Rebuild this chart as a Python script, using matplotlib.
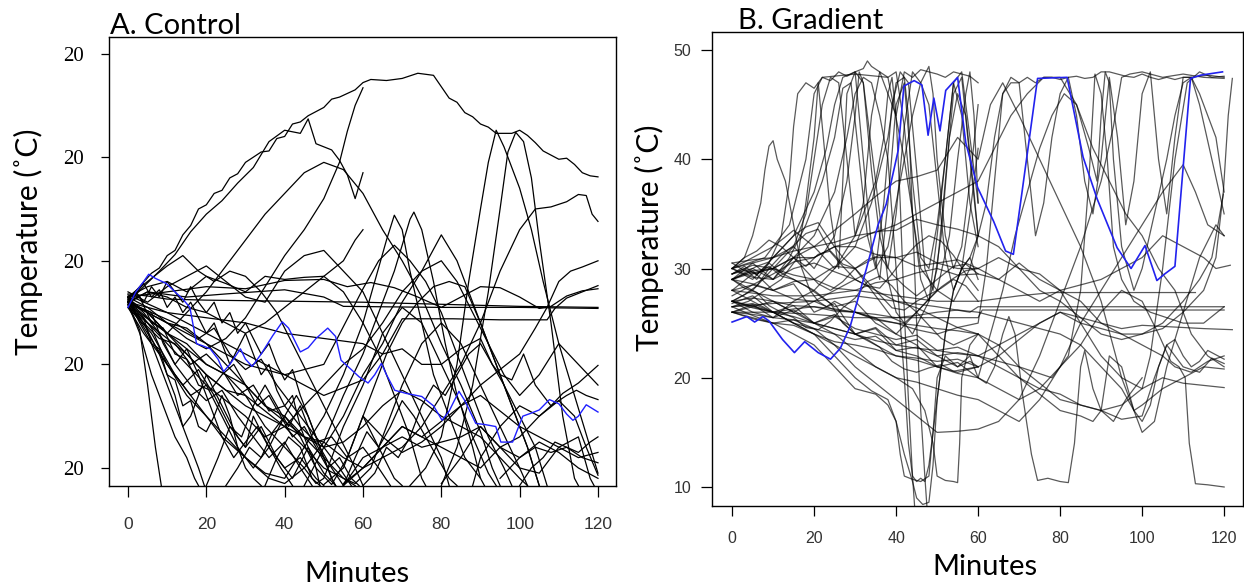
import matplotlib.pyplot as plt

# ---- A. Control : (minute, temperature) traces ----
control_traces = [
    [(0, 26.3), (3, 27.5), (6, 28.8), (8, 29.3), (10, 30.5), (12, 31), (14, 32.5), (16, 33.4), (18, 35), (20, 35.4),
     (22, 36.5), (24, 36.8), (26, 38), (28, 38.4), (30, 39.5), (34, 40.5), (36, 40.6), (38, 41.8), (40, 42), (42, 43.2),
     (44, 43.4), (46, 44), (50, 44.8), (52, 45.6), (54, 45.8), (58, 46.5), (60, 47.2), (62, 47.5), (66, 47.4), (70, 47.6),
     (74, 48.1), (78, 47.9), (80, 46.8), (82, 45.7), (84, 45.3), (86, 44.3), (88, 43.9), (90, 43.2), (92, 42.9),
     (94, 42.3), (98, 42.3), (100, 42.6), (102, 42.1), (104, 41.4), (106, 40.6), (110, 39.8), (112, 39.9), (114, 39.3),
     (116, 38.5), (118, 38.2), (120, 38.1)],
    [(0, 26), (4, 27.5), (8, 29), (12, 30.6), (16, 32.8), (20, 34.5), (24, 35.8), (28, 37.5), (32, 39), (36, 41.5),
     (40, 42.6), (44, 42.3), (46, 43.7), (48, 41.3), (52, 40.7), (54, 39.7), (56, 38.3), (58, 36), (60, 38.5)],
    [(0, 26.5), (5, 25.5), (10, 24), (15, 22.5), (20, 21.5), (25, 22.5), (30, 24.5), (35, 27.5), (40, 30.5), (45, 33),
     (50, 36), (54, 39.5), (56, 42.5), (58, 45), (60, 46.7)],
    [(0, 26), (5, 24.5), (10, 23), (15, 25), (20, 27), (25, 29.5), (30, 32), (35, 34.5), (40, 36.5), (45, 38.5),
     (50, 39.5), (55, 38.8), (60, 36.5), (65, 33), (70, 30), (75, 26.5), (80, 22), (85, 18), (90, 13.5), (93, 10), (95, 8.3)],
    [(0, 26), (5, 23), (10, 20), (15, 17), (20, 15), (25, 13), (30, 11), (35, 9.5), (40, 9), (45, 12), (50, 15), (55, 19),
     (60, 24), (63, 28), (66, 32), (68, 34.4), (70, 33), (72, 29), (75, 24), (78, 19), (82, 15), (86, 11), (90, 9)],
    [(0, 25.5), (6, 23), (12, 19), (18, 16), (24, 13), (30, 11), (36, 9), (40, 8.5), (45, 10), (50, 12.5), (55, 17),
     (60, 21), (64, 25), (68, 29), (70, 31.5), (72, 34), (73, 34.7), (75, 33), (78, 28), (81, 22), (84, 17), (88, 13),
     (92, 9.5), (94, 8.3)],
    [(72, 8.3), (76, 10), (80, 13), (84, 20), (87, 28), (90, 35), (92, 39.5), (94, 42.6), (96, 41), (98, 39), (100, 37),
     (103, 33), (106, 28), (110, 22), (114, 17), (118, 12), (120, 9.5)],
    [(80, 8.3), (84, 12), (88, 18), (92, 27), (95, 35), (97, 40.5), (99, 42.4), (101, 41.5), (103, 38), (105, 32),
     (108, 24), (111, 15), (114, 9), (115, 8.3)],
    [(55, 8.3), (60, 10), (65, 11), (70, 12), (75, 14), (80, 17), (85, 20), (90, 24), (95, 29), (100, 33), (104, 35),
     (108, 35.2), (112, 35.7), (115, 36.4), (117, 36.3), (118.5, 34.5), (120, 33.8)],
    [(60, 15), (65, 13), (70, 11.5), (75, 12.5), (80, 14), (85, 16), (90, 18), (95, 19.5), (100, 21), (104, 23.5),
     (107, 25.5), (110, 28), (113, 29), (116, 29.4), (120, 30)],
    [(0, 26.5), (10, 27), (20, 27.5), (30, 27.3), (40, 28.1), (50, 28.2), (56, 27.5), (62, 27.9), (68, 27.4), (74, 26.5),
     (80, 25.5), (85, 26.5), (90, 27.5), (95, 27.4), (100, 26.5), (105, 25.4), (108, 25.6), (112, 26.6), (116, 27.1),
     (120, 27.3)],
    [(0, 26.8), (5, 26.6), (10, 26.3), (20, 26.2), (40, 26.1), (60, 26.0), (80, 25.8), (100, 25.6), (120, 25.5)],
    [(0, 26), (5, 27), (15, 26.5), (25, 26.8), (40, 27.2), (50, 26.5), (55, 25.6), (80, 25.5), (100, 25.5), (120, 25.4)],
    [(0, 26), (10, 24), (20, 22), (30, 20), (40, 19), (50, 17), (60, 18.5), (65, 21), (70, 24.4), (83, 24.4), (95, 24.3),
     (107, 24.3), (109, 25.4), (112, 26.4), (116, 27), (120, 27.6)],
    [(55, 8.3), (60, 11), (65, 12), (70, 13), (75, 12), (80, 12.5), (85, 13), (90, 14), (95, 12), (100, 13), (105, 15),
     (108, 16), (111, 17.2), (115, 18.2), (120, 19.9)],
    [(0, 26), (10, 25), (20, 24.5), (30, 24), (40, 23), (50, 22.5), (60, 22), (65, 21), (70, 21.5), (75, 20), (80, 20),
     (85, 21.5), (90, 22.5), (93, 20), (95, 19), (98, 18.5), (101, 21), (104, 18), (108, 16), (112, 17), (114.5, 17.5),
     (117, 17), (120, 16.6)],
    [(88, 8.3), (90, 11), (95, 14), (100, 16), (105, 15), (110, 16.5), (114, 15), (117, 12), (120, 9.3)],
    [(0, 26), (1, 25), (3, 23.3), (5, 18), (7, 12), (8.5, 8.3)],
    [(0, 26.2), (3, 24), (6, 22), (9, 19), (12, 16), (15, 13), (18, 10), (19.5, 8.3)],
    [(0, 25.5), (4, 23), (8, 21), (12, 17), (14, 14), (16, 15), (20, 19), (24, 16), (28, 13), (30, 12), (32, 15),
     (36, 12), (40, 10), (44, 11), (48, 9), (50, 8.3)],
    [(0, 26), (5, 24), (10, 22), (15, 20), (20, 18), (25, 16.5), (30, 15), (35, 13), (40, 14), (45, 12), (50, 10),
     (55, 9), (58, 8.3)],
    [(0, 26), (5, 25), (10, 23), (15, 22), (20, 20), (25, 19), (30, 17), (35, 14), (40, 12), (45, 10), (48, 8.5),
     (50, 9), (52, 11), (55, 14), (60, 18), (65, 23), (70, 25.5), (75, 24), (80, 20), (85, 16), (88, 12), (90, 9), (91, 8.3)],
    [(45, 8.3), (50, 12), (55, 15), (60, 19), (65, 22), (70, 26), (75, 29), (80, 32.5), (84, 30), (88, 26), (92, 22),
     (96, 18), (100, 15), (104, 12), (107, 8.3)],
    [(0, 26.5), (5, 28), (10, 29.5), (14, 30.5), (18, 29), (22, 28), (26, 29), (30, 28.5), (34, 27), (38, 25), (42, 22),
     (46, 19), (50, 16), (54, 13), (58, 10), (60, 8.3)],
    [(0, 26), (5, 25), (10, 24), (15, 23.5), (20, 22), (25, 20), (30, 18), (35, 16), (40, 15), (45, 13), (50, 11),
     (55, 9), (58, 8.5), (62, 10), (66, 14), (70, 18), (75, 22), (80, 24), (85, 22), (90, 18), (95, 14), (100, 10), (102, 8.3)],
    [(0, 26), (4, 24), (8, 21), (12, 19), (16, 17), (20, 18), (24, 15), (28, 12), (32, 10), (36, 12), (40, 15), (44, 13),
     (48, 10), (52, 8.4), (56, 11), (60, 15), (64, 12), (68, 9), (70, 8.3)],
    [(0, 26.5), (3, 25), (6, 23.5), (10, 20), (14, 18), (18, 19.5), (22, 17), (26, 14), (30, 12), (34, 14), (38, 11),
     (42, 9), (46, 12), (50, 9.5), (53, 8.3)],
    [(0, 25.5), (5, 24), (10, 22.5), (15, 21), (20, 19), (25, 17.5), (30, 17), (35, 15.5), (40, 14), (45, 13), (50, 12),
     (55, 12.5), (60, 14), (65, 16), (70, 17.5), (75, 16.5), (80, 15), (85, 14), (90, 13), (95, 11), (100, 9), (102, 8.3)],
    [(0, 26), (5, 25), (10, 23), (15, 21.5), (20, 20), (25, 19), (30, 18), (35, 16), (40, 14.5), (45, 13), (50, 12.5),
     (55, 11), (60, 10), (65, 12), (70, 14), (75, 13), (80, 12), (85, 11), (90, 10), (95, 12), (100, 11), (105, 12.5),
     (110, 11.5), (115, 10), (120, 9)],
    [(55, 8.5), (60, 10), (65, 12), (70, 14), (75, 13), (80, 14.5), (85, 16), (90, 17), (95, 15.5), (100, 14), (105, 13),
     (110, 12), (115, 11), (120, 11.5)],
    [(50, 8.4), (55, 10), (58, 13), (62, 17), (66, 21), (70, 24), (74, 26), (78, 27.5), (82, 28), (86, 27.5), (90, 24),
     (94, 20), (98, 16), (102, 12), (105, 8.3)],
    [(0, 26.5), (5, 27.5), (10, 28), (15, 27), (20, 28.5), (25, 27.8), (30, 27), (35, 28.5), (40, 28.2), (45, 28.4),
     (50, 28.5), (55, 27), (60, 24), (64, 21), (68, 17), (72, 13), (75, 9), (76, 8.3)],
    [(0, 27), (5, 26), (10, 27.5), (15, 28.5), (20, 29.5), (25, 28), (30, 26.5), (35, 26), (40, 29), (45, 30.5), (50, 31),
     (55, 29), (60, 27), (65, 23), (70, 19), (75, 15), (80, 11), (82, 8.3)],
    [(0, 25.8), (10, 23), (20, 19), (30, 16), (40, 14), (45, 16), (50, 18), (55, 20), (60, 21.5), (65, 24), (70, 27),
     (75, 29), (80, 30), (84, 28), (88, 25), (92, 22), (96, 19), (100, 17), (105, 19), (110, 22), (115, 20), (120, 18)],
    [(95, 9), (100, 11), (104, 12), (108, 11.5), (112, 12), (116, 11), (120, 10.5)],
    [(80, 8.5), (85, 11), (90, 14), (95, 12), (100, 10), (105, 9.5), (110, 12), (115, 13), (118, 9), (119, 8.3)],
    [(0, 25.8), (3, 23), (6, 19), (9, 16), (12, 13), (15, 11), (17, 9), (18, 8.3)],
    [(0, 26.3), (4, 25), (8, 23), (12, 20), (16, 18), (20, 16.5), (24, 17.5), (28, 15), (32, 13), (36, 11), (40, 12.5),
     (44, 10), (47, 8.3)],
    [(0, 26), (6, 25), (12, 24), (18, 22.5), (22, 23.5), (26, 21), (30, 19.5), (34, 20.5), (38, 18), (42, 16), (46, 14),
     (50, 12), (54, 10), (57, 8.3)],
    [(0, 26), (5, 27), (10, 26.5), (15, 25.5), (20, 25), (25, 24), (30, 23), (35, 24), (40, 25.5), (45, 27), (50, 28.5),
     (55, 30), (58, 32), (60, 33)],
    [(0, 26.7), (10, 25), (20, 23), (30, 21), (40, 19), (50, 20), (60, 27.3), (64, 30), (68, 31.5), (72, 30), (76, 28),
     (80, 25), (84, 21), (88, 17), (92, 13), (96, 10), (98, 8.3)],
    [(0, 26.5), (2, 25), (4, 24.5), (6, 22), (8, 21.5), (10, 19), (12, 18.5), (14, 16), (16, 16.5), (18, 14), (20, 13.5),
     (22, 15), (24, 17), (26, 15), (28, 12), (30, 10), (32, 9), (34, 8.3)],
    [(0, 26), (3, 26.5), (6, 24), (9, 23.5), (12, 21), (15, 20.5), (18, 18), (21, 17.5), (24, 19), (27, 20), (30, 18),
     (33, 16), (36, 17), (39, 15), (42, 13), (45, 14), (48, 12), (51, 10), (54, 11), (57, 9), (59, 8.3)],
    [(0, 25.7), (4, 24), (8, 22.5), (12, 22), (16, 20), (20, 21), (24, 19.5), (28, 17), (32, 18), (36, 15.5), (40, 16),
     (44, 14), (48, 12.5), (52, 13), (56, 11), (60, 12), (64, 10), (67, 8.3)],
    [(0, 26.4), (3, 25.5), (6, 25), (9, 22), (12, 20), (15, 21.5), (18, 19), (21, 16), (24, 13), (27, 11), (30, 12.5),
     (33, 14), (36, 12), (39, 10), (42, 8.3)],
    [(20, 8.3), (23, 11), (26, 14), (29, 13), (32, 16), (35, 18), (38, 16), (41, 14), (44, 16), (47, 13), (50, 11),
     (52, 9), (53, 8.3)],
    [(25, 8.3), (28, 10), (31, 12), (34, 11), (37, 13.5), (40, 15), (43, 17), (46, 15), (49, 12), (52, 10), (55, 8.3)],
    [(35, 8.3), (38, 11), (41, 13), (44, 12), (47, 9), (49, 8.3)],
    [(55, 8.3), (58, 11), (61, 13.5), (64, 12), (67, 14), (70, 16.5), (73, 15), (76, 13), (79, 11), (82, 9), (84, 8.3)],
    [(60, 8.3), (63, 9.5), (66, 12), (69, 11), (72, 13), (75, 16), (78, 18), (81, 17), (84, 19), (87, 21), (90, 22),
     (93, 20), (96, 18), (99, 15), (102, 12), (104, 9.5), (105, 8.3)],
    [(100, 8.3), (103, 10), (106, 11), (109, 12.5), (112, 12), (115, 11.5), (118, 12.5), (120, 13)],
    [(0, 26.2), (2, 27), (4, 26), (6, 27.5), (8, 26.5), (10, 28), (12, 27), (14, 26), (16, 27.5), (18, 26), (20, 25),
     (22, 26), (24, 24), (26, 25), (28, 23), (30, 24), (32, 22.5), (34, 21), (36, 22), (38, 20), (40, 18.5), (42, 19.5),
     (44, 17), (46, 15), (48, 13), (50, 11), (52, 9), (53, 8.3)],
    [(0, 25.8), (2, 26.8), (4, 27.8), (6, 26.5), (8, 27.2), (10, 25.5), (12, 26.5), (14, 25), (16, 26), (18, 24.5),
     (20, 23), (22, 24), (24, 22), (26, 20), (28, 21.5), (30, 23), (32, 21), (34, 19), (36, 20), (38, 17.5), (40, 16),
     (42, 17), (44, 14), (46, 12), (48, 10), (49, 8.3)],
]

control_highlight = [
    (0, 25.5), (2, 27), (4, 28), (5.3, 28.7), (7, 28.3), (9.8, 27.8), (12, 27), (14, 26.3), (15.8, 25.5), (17.5, 22),
    (19, 21.8), (21, 21.5), (23, 20.5), (24.4, 19.3), (26, 20), (28.7, 21.5), (30, 20.5), (31.7, 19.8), (34, 21),
    (37, 22.8), (39.4, 24.1), (41, 23.5), (44, 21.2), (46, 21.6), (48, 22.5), (51, 23.5), (53, 22.7), (54.4, 20.4),
    (57, 19.5), (59, 18.8), (61.3, 18.2), (63, 19), (64.7, 20.1), (66, 19), (68.1, 17.5), (71, 17.2), (75, 16.9),
    (78, 16), (80.2, 14.6), (82, 15.5), (84.5, 17.4), (86, 16.5), (88.8, 14.3), (91, 14.2), (93.9, 14.0), (95.2, 12.5),
    (98.2, 12.5), (100.8, 15), (103, 15.3), (105, 15.6), (107.6, 16.6), (110, 16.2), (112, 15.2), (113.6, 14.6),
    (115, 15), (117, 16.1), (120, 15.4),
]

# ---- B. Gradient ----
gradient_traces = [
    [(0, 29.5), (3, 30), (6, 29), (9, 30.5), (12, 33), (14, 38), (15, 43), (16, 46), (18, 47), (20, 46.5), (22, 47.5),
     (24, 47.2), (26, 48), (28, 47.6), (30, 48), (32, 48.3), (33, 49), (34, 48.5), (36, 48), (38, 46), (40, 44), (42, 48),
     (44, 47.5), (46, 48.2), (48, 48), (50, 47.8), (52, 47.5), (54, 48), (56, 47.8), (58, 47.6), (60, 47)],
    [(0, 26.5), (4, 27), (8, 28), (12, 29), (16, 31), (18, 36), (20, 42), (21, 47), (22, 43), (24, 35), (26, 30), (27, 38),
     (28, 46), (30, 48), (32, 40), (34, 32), (36, 29), (38, 36), (40, 45), (42, 47), (44, 38), (46, 31), (48, 30), (50, 34),
     (52, 40), (54, 47), (56, 44), (58, 36), (60, 32)],
    [(0, 29), (5, 30.5), (10, 29), (14, 31), (18, 34), (22, 38), (25, 42), (27, 46.5), (29, 47), (31, 40), (33, 33),
     (35, 30), (37, 36), (39, 45), (41, 48), (43, 47), (45, 39), (47, 30), (49, 28), (51, 33), (53, 42), (55, 46), (57, 44),
     (59, 37), (60, 33)],
    [(0, 30), (5, 29), (10, 31), (15, 33), (20, 37), (23, 41), (25, 45), (27, 47.5), (30, 48), (32, 47), (34, 41),
     (36, 35), (38, 29), (40, 26), (44, 24), (48, 27), (50, 33), (52, 40), (54, 47), (56, 48), (58, 42), (60, 36)],
    [(0, 28), (5, 29.5), (10, 30), (15, 32), (20, 30), (25, 33), (28, 38), (30, 44), (31, 48), (32, 47), (34, 39),
     (36, 33), (38, 30), (40, 35), (42, 43), (44, 48), (46, 47), (48, 45), (50, 38), (52, 31), (54, 28), (56, 30), (58, 35),
     (60, 41)],
    [(0, 26), (5, 26.5), (10, 27), (15, 26), (20, 27), (25, 28), (30, 29), (35, 30), (38, 32), (40, 36), (42, 40),
     (44, 44), (46, 47), (48, 48.5), (49, 46), (50, 40), (52, 33), (54, 30), (56, 32), (58, 38), (60, 45)],
    [(0, 27), (5, 26), (10, 25.5), (15, 27), (20, 28), (25, 26.5), (30, 27), (35, 25), (40, 24), (45, 26), (50, 28),
     (53, 33), (55, 40), (57, 46), (58, 48), (59, 44), (60, 36)],
    [(0, 30), (5, 30.5), (10, 31), (15, 32), (18, 35), (20, 40), (22, 45), (24, 47.5), (26, 47), (28, 40), (30, 33),
     (32, 36), (34, 44), (36, 48), (38, 47.5), (40, 48), (42, 43), (44, 35), (46, 29), (48, 27), (50, 30), (52, 38),
     (54, 46), (56, 47.5), (58, 40), (60, 33)],
    [(0, 29.5), (5, 30), (10, 29), (15, 31), (20, 33), (25, 37), (28, 42), (30, 46), (32, 47.5), (34, 47), (36, 44),
     (38, 40), (40, 30), (42, 20), (43, 14), (44, 11), (45, 10.5), (46, 10.8), (47, 10.5), (48, 12), (50, 18), (52, 24),
     (54, 28), (56, 30), (58, 31), (60, 29)],
    [(0, 30), (5, 31), (10, 32), (15, 33.5), (20, 32), (25, 30), (30, 32), (34, 36), (38, 42), (40, 47), (42, 47.5),
     (43, 44), (44, 35), (45, 25), (46, 17), (47, 11), (47.5, 8.3)],
    [(0, 27), (5, 28), (10, 30), (15, 29), (20, 28), (25, 30), (30, 33), (35, 38), (37, 42), (38, 46), (39, 47.5),
     (40, 44), (41, 36), (42, 26), (43, 18), (44, 11), (44.5, 8.3)],
    [(0, 30), (3, 31), (5, 33), (7, 36), (8, 39), (9, 41.2), (10, 41.7), (11, 40), (13, 38), (15, 34), (17, 30), (19, 28),
     (21, 27), (23, 26.5), (25, 27), (30, 26), (35, 25.5), (40, 24), (45, 23), (50, 21), (55, 20.5), (60, 21)],
    [(0, 27), (5, 26.5), (10, 26), (15, 25), (20, 24), (25, 22), (30, 20), (34, 18.8), (38, 18), (40, 16), (42, 13),
     (44, 10.5), (45, 9), (46.5, 8.4), (48, 8.6), (49, 12), (50, 18), (52, 24), (54, 28), (56, 30), (58, 31), (60, 33)],
    [(0, 26), (10, 25), (20, 23), (25, 21), (30, 19), (35, 18.5), (38, 17.5), (40, 16), (41, 13), (42, 11), (44, 10.7),
     (46, 10.5), (48, 11), (49, 15), (50, 20), (52, 22), (55, 21), (58, 21.5), (60, 21)],
    [(0, 29), (5, 28), (10, 27), (15, 26), (20, 25), (25, 24), (30, 22.5), (35, 21), (40, 20), (44, 19), (47, 17),
     (49, 14), (50, 11), (52, 10.6), (54, 10.5), (55, 10.4), (55.5, 14), (56, 20), (58, 23), (60, 24)],
    [(0, 28), (5, 27), (10, 26), (15, 25), (20, 24.5), (25, 23), (30, 21), (35, 19.5), (40, 18), (45, 16.5), (50, 15),
     (55, 15.1), (60, 15.3), (65, 16), (70, 18), (75, 22), (80, 27), (85, 32), (90, 38), (93, 43), (95, 47.5), (97, 47.8),
     (100, 48), (105, 47.5), (110, 47.8), (115, 47.5), (120, 47.4)],
    [(0, 29.5), (3, 30.2), (6, 29.4), (9, 30.5), (12, 29.6), (15, 31), (18, 30.2), (21, 31.3), (24, 31.6), (27, 30.4),
     (30, 30), (33, 28.5), (36, 27), (39, 25.5), (42, 25), (45, 26), (48, 27.2), (51, 28.3), (54, 29.1), (57, 29.8),
     (60, 30)],
    [(0, 27), (3, 27.6), (6, 28.4), (9, 30), (12, 31.2), (15, 32.1), (18, 33.2), (21, 33.6), (24, 31.5), (27, 30.2),
     (30, 29), (33, 28.4), (36, 28.2), (39, 29.5), (42, 31), (45, 32.2), (48, 33), (51, 32.5), (54, 31.2), (57, 29.5),
     (60, 28)],
    [(0, 29), (3, 28.2), (6, 27.8), (9, 26.6), (12, 26), (15, 25.5), (18, 24.6), (21, 24.4), (24, 25.2), (27, 26.4),
     (30, 27.3), (33, 28.8), (36, 29.3), (39, 28.4), (42, 27), (45, 26), (48, 24.8), (51, 23.6), (54, 23), (57, 23.5),
     (60, 24)],
    [(0, 30), (3, 31), (6, 31.6), (9, 32.6), (12, 32), (15, 31), (18, 29.8), (21, 28.6), (24, 28), (27, 28.8), (30, 30),
     (33, 30.8), (36, 31.2), (39, 29.5), (42, 28.4), (45, 27.5), (48, 28.4), (51, 29.3), (54, 30.2), (57, 30.4),
     (60, 29.5)],
    [(0, 30.5), (3, 29.8), (6, 29.5), (9, 30.2), (12, 29.3), (15, 29), (18, 28.4), (21, 27.6), (24, 26.8), (27, 25),
     (30, 24), (33, 23.5), (36, 22.8), (39, 21.5), (42, 20.8), (45, 20.5), (48, 20.9), (51, 21.2), (54, 20.6), (57, 20.8),
     (60, 21)],
    [(0, 29), (3, 29.6), (6, 30.2), (9, 30.6), (12, 31.8), (15, 33), (18, 33.8), (21, 34.2), (24, 32.5), (27, 31),
     (30, 30), (33, 28.8), (36, 27.6), (39, 26.4), (42, 26.2), (45, 27), (48, 27.6), (51, 28.2), (54, 29), (57, 28.4),
     (60, 27)],
    [(0, 26.5), (10, 26.8), (20, 27), (30, 27.5), (40, 27), (50, 26.5), (58, 26), (60, 26.5), (70, 26.5), (80, 26.5),
     (90, 26.5), (100, 26.5), (110, 26.5), (120, 26.5)],
    [(0, 28), (10, 27.5), (20, 27.5), (30, 28), (40, 27.5), (50, 27), (60, 27), (70, 27.5), (78, 27.8), (90, 27.8),
     (100, 27.8), (113, 27.8)],
    [(0, 26), (10, 26), (20, 25.8), (30, 25.5), (40, 25.5), (50, 25.5), (60, 25.5), (61, 26.2), (80, 26.2), (100, 26.2),
     (120, 26.2)],
    [(0, 26.8), (5, 27.5), (10, 26), (15, 26.6), (20, 25), (25, 25.8), (30, 24), (35, 24.6), (40, 23), (45, 23.5),
     (50, 22), (55, 21), (58, 22), (60, 20), (62, 19.5), (64, 21), (66, 24), (67.5, 25.6), (69, 24), (71, 18), (73, 13),
     (74.5, 10.6), (77, 10.8), (80, 10.5), (82, 10.4), (83.5, 14), (85, 21), (86, 22.5), (88, 19), (90, 17), (93, 16),
     (96, 18), (100, 20)],
    [(0, 29), (5, 29.8), (10, 28), (15, 28.6), (20, 26), (25, 26.8), (30, 24), (35, 24.5), (40, 22.5), (45, 22), (50, 21),
     (55, 21.4), (60, 20), (65, 19), (70, 18), (75, 19), (80, 21), (85, 23), (90, 26), (95, 28), (100, 27), (104, 24),
     (107, 21.5), (109, 21), (110.5, 20), (111.5, 14), (113, 10.3), (116, 10.2), (120, 10)],
    [(0, 26), (5, 26.7), (10, 25.5), (15, 26.2), (20, 25), (25, 25.6), (30, 24.5), (35, 24), (40, 23.5), (45, 23.9),
     (50, 22.5), (55, 22.8), (60, 22), (65, 21), (70, 20), (75, 19), (80, 18.5), (85, 17.5), (90, 17), (95, 17.5),
     (100, 19), (105, 20), (110, 19.5), (115, 19.3), (120, 19.1)],
    [(0, 30), (5, 29.2), (10, 29), (15, 30), (20, 30.5), (25, 29.7), (30, 29), (35, 28), (40, 27), (45, 26.4), (50, 25.5),
     (55, 24.6), (60, 24), (65, 23), (70, 21), (75, 19.5), (80, 18), (85, 17.5), (90, 17), (95, 16.2), (100, 16.5),
     (103, 20), (106, 23), (110, 21), (114, 20.5), (117, 21.8), (120, 21.3)],
    [(0, 29), (5, 29.8), (10, 30), (15, 31), (20, 31), (25, 32), (30, 32), (35, 31.3), (40, 31), (45, 31.5), (50, 30.5),
     (55, 30), (60, 30), (65, 31), (70, 30), (75, 29.5), (80, 28), (85, 27), (90, 25), (95, 24), (100, 23), (105, 22),
     (108, 21), (112, 20.5), (116, 21.5), (120, 22)],
    [(0, 26.5), (5, 25.7), (10, 25), (15, 24.8), (20, 24), (25, 23.3), (30, 23), (35, 22.6), (40, 22), (45, 21.8),
     (50, 21.5), (55, 21.7), (60, 21), (65, 22), (70, 23.5), (75, 25), (80, 26), (85, 25.5), (90, 25), (95, 24.5),
     (100, 24.8), (105, 24.7), (110, 24.6), (115, 24.5), (122, 24.4)],
    [(0, 27.5), (5, 28.5), (10, 28), (15, 28.8), (20, 29), (25, 30.2), (30, 30), (35, 31), (40, 31), (45, 30.2),
     (50, 30.5), (55, 30.8), (60, 30), (65, 29), (70, 28), (75, 27), (80, 28), (85, 28.5), (90, 29), (95, 30), (100, 31),
     (105, 33), (110, 32), (115, 31), (118, 30), (121.5, 30.3)],
    [(0, 26), (5, 25.4), (10, 25), (15, 25.3), (20, 24.5), (25, 24), (30, 23.5), (35, 23.8), (40, 22.5), (45, 22.8),
     (50, 22), (55, 22.3), (60, 22), (65, 23), (70, 24), (75, 25), (80, 26), (85, 25), (90, 24.5), (95, 24), (100, 24),
     (105, 24.5), (110, 26), (115, 28), (118, 31), (119.8, 37), (121, 44), (122, 47.4)],
    [(0, 28), (5, 28.5), (10, 29.5), (15, 30.6), (20, 31), (25, 32), (30, 32.5), (35, 33.4), (40, 33.5), (45, 34.5),
     (50, 34), (55, 33.6), (60, 33), (65, 32), (70, 30), (75, 28), (80, 27), (85, 25.5), (90, 24), (95, 23.5), (100, 24),
     (105, 25), (110, 27), (114, 29), (117, 31), (118.5, 34), (119.8, 36.8)],
    [(0, 30), (8, 31), (14, 34), (18, 40), (20, 46), (22, 47.5), (30, 47.8), (38, 47.5), (42, 40), (46, 30), (50, 28),
     (54, 27), (58, 30), (60, 33), (62, 36), (64, 42), (66, 46), (68, 47), (70, 47), (72, 47.5), (74, 47), (76, 47.5),
     (78, 47.5), (80, 47.3), (82, 47.5), (84, 47.6), (86, 47.4), (88, 47.5), (90, 48), (92, 48), (94, 47.8), (96, 47.6),
     (98, 47.5), (100, 47.8), (102, 47.5), (104, 47.3), (106, 47.5), (108, 47.3), (110, 47.5), (112, 47.5), (114, 47.6),
     (116, 47.7), (118, 47.6), (120, 47.5)],
    [(0, 29), (5, 28.6), (10, 28), (15, 27.2), (20, 27), (25, 26.2), (30, 26), (35, 25.3), (40, 25), (45, 24.4), (50, 24),
     (55, 24.6), (60, 25), (62, 30), (64, 38), (66, 46), (68, 47.5), (70, 47), (72, 40), (74, 33), (76, 36), (78, 42),
     (80, 46), (82, 47.5), (84, 44), (86, 38), (88, 35), (90, 40), (92, 47.5), (94, 42), (96, 34), (98, 38), (100, 46),
     (102, 48), (104, 40), (106, 35), (108, 42), (110, 47.5), (112, 47.5), (114, 46), (116, 44), (118, 42), (120, 37)],
    [(0, 27), (5, 26.4), (10, 26), (15, 25.6), (20, 25), (25, 24.5), (30, 24), (35, 23), (40, 22), (45, 21.6), (50, 21),
     (55, 20.4), (60, 20), (63, 24), (66, 28), (69, 33), (72, 37), (75, 41), (78, 44), (81, 46), (84, 45), (87, 41),
     (89, 38), (90, 44), (91, 48), (92, 47), (93, 40), (95, 32), (98, 28), (100, 30), (103, 35), (106, 40), (108, 44),
     (110, 47), (112, 47.5), (114, 45), (117, 40), (120, 35)],
    [(0, 30.5), (5, 30.8), (10, 31), (15, 31.6), (20, 32), (25, 32.4), (30, 33), (35, 33.3), (40, 34), (45, 35), (50, 36),
     (55, 37), (60, 38), (64, 41), (68, 44), (72, 46), (76, 47.5), (80, 47.5), (84, 45), (88, 41), (92, 38), (96, 35),
     (100, 33), (104, 30), (108, 28), (112, 24), (116, 22), (120, 21)],
    [(0, 29), (5, 29.6), (10, 30), (15, 31), (20, 32), (25, 33.5), (30, 35), (35, 36.6), (40, 38), (45, 38.4), (50, 39),
     (55, 42), (60, 40), (63, 45), (66, 47), (70, 44), (75, 40), (80, 36), (85, 32), (90, 27), (95, 20), (100, 15),
     (103, 16), (106, 21), (110, 26), (114, 31), (118, 34), (120, 33)],
    [(0, 29.5), (5, 30.3), (10, 30), (15, 29.4), (20, 29), (25, 28.2), (30, 28), (35, 28.7), (40, 29), (45, 29.6),
     (50, 30), (55, 29.4), (60, 29.5), (65, 29), (70, 30.5), (75, 29), (80, 28), (85, 25), (90, 22), (95, 20), (100, 19),
     (102, 22), (105, 30), (108, 40), (111, 47), (114, 48), (117, 47.5), (120, 47.6)],
    [(0, 27), (5, 26.6), (10, 26), (15, 25), (20, 24), (25, 23), (30, 22), (35, 21), (40, 20), (45, 19.6), (50, 19),
     (55, 18.4), (60, 18), (65, 17), (70, 16), (75, 18), (80, 21), (85, 25), (90, 28), (95, 31), (100, 34), (105, 37),
     (110, 39.5), (113, 37), (116, 34), (120, 33)],
    [(0, 26.5), (5, 26.8), (10, 26), (15, 26.3), (20, 26.5), (25, 26.1), (30, 26), (35, 25.8), (40, 25.5), (45, 25.7),
     (50, 26), (55, 26.2), (60, 26), (70, 25), (80, 24), (85, 23), (90, 21), (95, 19), (98, 17), (100, 16), (102, 17.5),
     (104, 21), (106, 23), (108, 23.5), (110, 22), (112, 21), (114, 21.5), (116, 22.5), (120, 21.7)],
    [(0, 27), (5, 27.3), (10, 27), (15, 26.6), (20, 26.5), (25, 26.3), (30, 26), (35, 25.4), (40, 25), (45, 24.8),
     (50, 24.5), (55, 24.3), (60, 24), (65, 22), (70, 20), (75, 18.5), (80, 17), (85, 16.5), (88, 16), (90, 17), (92, 22),
     (95, 21), (98, 17), (100, 17.5), (105, 19), (110, 20), (115, 21), (120, 20.8)],
    [(0, 26), (5, 25.8), (10, 25.5), (15, 25.3), (20, 25), (25, 24.5), (30, 24), (35, 23.4), (40, 23), (45, 22.7),
     (50, 22.5), (55, 22.2), (60, 22), (70, 21), (78, 20), (82, 22), (85, 28), (87, 38), (88.5, 47.8), (90, 46),
     (91.5, 40), (93, 32), (95, 29), (98, 27), (102, 26), (106, 25.5), (110, 25), (115, 25), (120, 26.5)],
]

gradient_highlight = [
    (0, 25.1), (3.6, 25.6), (5.5, 25.1), (7.5, 25.6), (9, 25.2), (12.3, 23.5), (15.2, 22.3), (17.7, 23.3), (21, 22.3),
    (24, 21.7), (26.4, 22.7), (28.8, 24.7), (32.7, 29.9), (35.6, 34), (37.6, 35.9), (40.5, 40.8), (41.9, 46.7),
    (44.4, 47.2), (46.3, 46.8), (47.8, 42.2), (49.2, 45.6), (50.7, 42.6), (52.1, 46.3), (55, 47.5), (57, 41.5),
    (59.9, 37.4), (63.8, 34.3), (66.7, 31.6), (68.6, 31.3), (70.6, 36.7), (74.5, 47.4), (81.7, 47.5), (85.6, 40.2),
    (89, 36.4), (93.9, 31.9), (97.3, 30), (100.7, 32.1), (103.6, 28.9), (105.5, 29.5), (108, 30.2), (111.8, 47.4),
    (114.3, 47.7), (119.6, 48),
]

minute_ticks = [0, 20, 40, 60, 80, 100, 120]
control_ytick_pos = [10, 20, 30, 40, 50]
control_ytick_labels = ['20', '20', '20', '20', '20']
gradient_yticks = [10, 20, 30, 40, 50]

W, H = 1244, 588
fig = plt.figure(figsize=(W / 100, H / 100), dpi=100)


def frac(x0, y0, x1, y1):
    return [x0 / W, 1 - y1 / H, (x1 - x0) / W, (y1 - y0) / H]


ax1 = fig.add_axes(frac(109, 37, 616, 486))
for tr in control_traces:
    t, v = zip(*tr)
    ax1.plot(t, v, color='black', lw=0.9)
t, v = zip(*control_highlight)
ax1.plot(t, v, color='#2020ff', lw=1.0)
ax1.set_xlim(-4.85, 124.6)
ax1.set_ylim(8.26, 51.6)
ax1.set_xticks(minute_ticks)
ax1.set_xticklabels([str(m) for m in minute_ticks], fontsize=12.5, color='#333333', family='Liberation Sans')
ax1.set_yticks(control_ytick_pos)
ax1.set_yticklabels(control_ytick_labels, fontsize=15, family='Liberation Serif')
ax1.tick_params(axis='x', direction='out', length=8, width=0.9, pad=14)
ax1.tick_params(axis='y', direction='out', length=6, width=0.9, pad=12)
for s in ax1.spines.values():
    s.set_linewidth(1.0)

ax2 = fig.add_axes(frac(712, 32, 1243, 506))
for tr in gradient_traces:
    t, v = zip(*tr)
    ax2.plot(t, v, color='black', lw=0.9, alpha=0.65)
t, v = zip(*gradient_highlight)
ax2.plot(t, v, color='#2222ee', lw=1.2)
ax2.set_xlim(-4.9, 124.6)
ax2.set_ylim(8.26, 51.65)
ax2.set_xticks(minute_ticks)
ax2.set_xticklabels([str(m) for m in minute_ticks], fontsize=11.5, color='#333333', family='Liberation Sans')
ax2.set_yticks(gradient_yticks)
ax2.set_yticklabels([str(v) for v in gradient_yticks], fontsize=11.5, color='#333333', family='Liberation Sans')
ax2.tick_params(axis='x', direction='out', length=7, width=0.9, pad=11)
ax2.tick_params(axis='y', direction='out', length=8, width=0.9, pad=7)
for s in ax2.spines.values():
    s.set_linewidth(1.0)

font = 'Lato'
fig.text(110 / W, 1 - 34 / H, 'A. Control', fontsize=21, family=font, ha='left', va='baseline')
fig.text(738 / W, 1 - 29 / H, 'B. Gradient', fontsize=21, family=font, ha='left', va='baseline')
fig.text(28 / W, 1 - 242 / H, 'Temperature (˚C)', fontsize=21.5, family=font, rotation=90, ha='center', va='center')
fig.text(649 / W, 1 - 238 / H, 'Temperature (˚C)', fontsize=21.5, family=font, rotation=90, ha='center', va='center')
fig.text(357 / W, 1 - 582 / H, 'Minutes', fontsize=21, family=font, ha='center', va='baseline')
fig.text(985 / W, 1 - 575 / H, 'Minutes', fontsize=21, family=font, ha='center', va='baseline')

fig.savefig('out.png', dpi=100)
